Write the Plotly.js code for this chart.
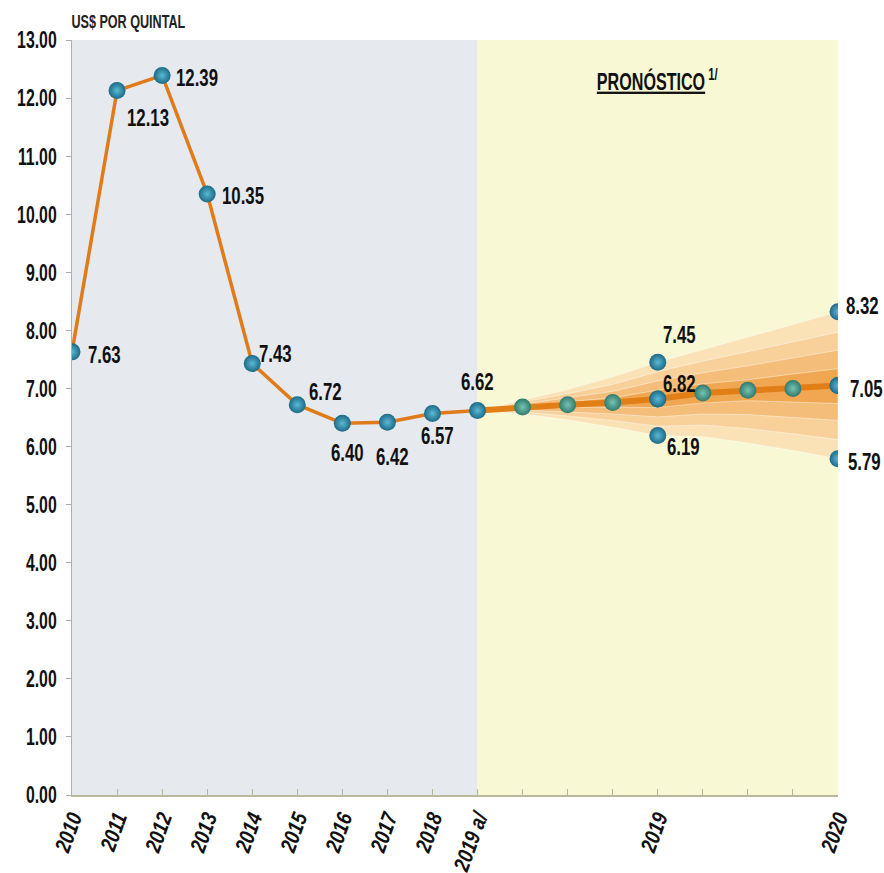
<!DOCTYPE html>
<html>
<head>
<meta charset="utf-8">
<script src="https://cdn.plot.ly/plotly-3.0.1.min.js"></script>
<style>body{margin:0;background:#fff}#chart{width:884px;height:873px}</style>
</head>
<body>
<div id="chart"></div>
<script>
// ---- data ----
const tickVals = [0,1,2,3,4,5,6,7,8,9,13,17];
const tickLabels = ["2010","2011","2012","2013","2014","2015","2016","2017","2018","2019 a/","2019","2020"];
const histIdx = [0,1,2,3,4,5,6,7,8,9];
const histValues = [7.63,12.13,12.39,10.35,7.43,6.72,6.40,6.42,6.57,6.62];
const fcIdx = [9,10,11,12,13,14,15,16,17];
const fcCenter = [6.62,6.68,6.72,6.76,6.82,6.92,6.97,7.00,7.05];
// fan band edges (outer -> inner)
const bandUpper4 = [6.62,6.80,6.98,7.20,7.45,7.67,7.88,8.10,8.32];
const bandUpper3 = [6.62,6.76,6.91,7.07,7.29,7.47,7.63,7.80,7.97];
const bandUpper2 = [6.62,6.73,6.84,6.95,7.13,7.27,7.39,7.53,7.66];
const bandUpper1 = [6.62,6.70,6.77,6.84,6.97,7.08,7.15,7.25,7.34];
const bandLower1 = [6.62,6.66,6.67,6.68,6.67,6.75,6.79,6.76,6.74];
const bandLower2 = [6.62,6.63,6.60,6.56,6.51,6.56,6.55,6.50,6.45];
const bandLower3 = [6.62,6.60,6.53,6.45,6.35,6.37,6.31,6.22,6.12];
const bandLower4 = [6.62,6.56,6.46,6.33,6.19,6.17,6.06,5.93,5.79];
const rangeIdx = [13,13,17,17];
const rangeValues = [7.45,6.19,8.32,5.79];
const centerLabelIdx = [13,17];
const centerLabelValues = [6.82,7.05];

const FAM = "Liberation Sans, Arial, sans-serif";
const lblFont = {family:FAM, size:24, color:"#111", weight:"bold"};
const bandColors = ["#fbe1b6","#f8d09a","#f5bd7a","#f1a752"];

const traces = [];
const uppers = [bandUpper4,bandUpper3,bandUpper2,bandUpper1];
const lowers = [bandLower4,bandLower3,bandLower2,bandLower1];
for (let k=0;k<4;k++){
  traces.push({x:fcIdx.concat(fcIdx.slice().reverse()), y:uppers[k].concat(lowers[k].slice().reverse()),
    type:"scatter", mode:"lines", fill:"toself", fillcolor:bandColors[k],
    line:{width:0.8,color:"rgba(255,255,255,0.55)"}, hoverinfo:"skip", showlegend:false});
}
traces.push({x:fcIdx,y:fcCenter,type:"scatter",mode:"lines",line:{color:"#e27e16",width:6},showlegend:false});
traces.push({x:histIdx,y:histValues,type:"scatter",mode:"lines",line:{color:"#e07b1a",width:3.5},showlegend:false});
const blueMarker = {size:17,color:"#1c6a86",gradient:{type:"radial",color:"#5bb9d4"},line:{width:0}};
const greenMarker = {size:17,color:"#2f7b6e",gradient:{type:"radial",color:"#79c2b2"},line:{width:0}};
traces.push({x:fcIdx.slice(1),y:fcCenter.slice(1),type:"scatter",mode:"markers",marker:greenMarker,showlegend:false});
traces.push({x:histIdx,y:histValues,type:"scatter",mode:"markers",marker:blueMarker,showlegend:false});
traces.push({x:rangeIdx,y:rangeValues,type:"scatter",mode:"markers",marker:blueMarker,showlegend:false});
traces.push({x:centerLabelIdx,y:centerLabelValues,type:"scatter",mode:"markers",marker:blueMarker,showlegend:false});

// label placement (pixel offsets of label centre from its point): [xshift, yshift]
const histPos = [[32,-3],[31,-27],[35,-2],[36,-2],[23,10],[28,13],[5,-29],[5,-34],[5,-22],[0,29]];
const annotations = [];
histValues.forEach((v,i)=>{
  annotations.push({x:histIdx[i],y:v,text:v.toFixed(2),showarrow:false,font:lblFont,
    xanchor:"center",xshift:histPos[i][0],yshift:histPos[i][1]});
});
const rangePos = [[22,28],[26,-11],[24,6],[26,-3]];
rangeValues.forEach((v,i)=>{
  annotations.push({x:rangeIdx[i],y:v,text:v.toFixed(2),showarrow:false,font:lblFont,
    xanchor:"center",xshift:rangePos[i][0],yshift:rangePos[i][1]});
});
const centerPos = [[22,15],[28,-3]];
centerLabelValues.forEach((v,i)=>{
  annotations.push({x:centerLabelIdx[i],y:v,text:v.toFixed(2),showarrow:false,font:lblFont,
    xanchor:"center",xshift:centerPos[i][0],yshift:centerPos[i][1]});
});
annotations.push({xref:"paper",yref:"paper",x:0,y:1,xanchor:"center",yanchor:"middle",xshift:56,yshift:18,
  text:"US$ POR QUINTAL",showarrow:false,
  font:{family:FAM,size:18,color:"#222",weight:"bold"}});
annotations.push({xref:"x",yref:"paper",x:13,y:0.947,xanchor:"center",yanchor:"middle",
  text:"<u>PRONÓSTICO</u><sup> 1/</sup>",showarrow:false,
  font:{family:FAM,size:23,color:"#111",weight:"bold"}});

const layout = {
  width:884,height:873,
  margin:{l:72,r:46,t:40,b:78},
  paper_bgcolor:"#ffffff",plot_bgcolor:"rgba(0,0,0,0)",
  showlegend:false,
  xaxis:{range:[0,17],tickmode:"array",tickvals:tickVals,ticktext:tickLabels,
    tickangle:-70,ticks:"inside",ticklen:6,tickcolor:"#b5b59a",showgrid:false,zeroline:false,
    minor:{tickmode:"linear",tick0:0,dtick:1,ticks:"inside",ticklen:6,tickcolor:"#b5b59a",showgrid:false},
    showline:true,linecolor:"#b8b89c",linewidth:2,
    tickfont:{family:FAM,size:22,color:"#111",weight:"bold",style:"italic"}},
  yaxis:{range:[0,13],tickmode:"linear",tick0:0,dtick:1,tickformat:".2f",ticks:"outside",ticklen:5,
    ticklabelstandoff:4,
    tickcolor:"#aaa",showgrid:false,zeroline:false,showline:true,linecolor:"#b0b0b0",linewidth:1.5,
    tickfont:{family:FAM,size:24,color:"#111",weight:"bold"}},
  shapes:[
    {type:"rect",xref:"x",yref:"y",x0:0,x1:9,y0:0,y1:13,fillcolor:"#e6e9ee",line:{width:0},layer:"below"},
    {type:"rect",xref:"x",yref:"y",x0:9,x1:17,y0:0,y1:13,fillcolor:"#f8f8d5",line:{width:0},layer:"below"}
  ],
  annotations:annotations
};

// narrow the glyphs to mimic the condensed face of the original
function squeeze(sel, f){
  document.querySelectorAll(sel).forEach(t=>{
    const L = t.getComputedTextLength();
    if (L>0){ t.setAttribute("textLength", (L*f).toFixed(1)); t.setAttribute("lengthAdjust","spacingAndGlyphs"); }
  });
}
Plotly.newPlot("chart",traces,layout,{displayModeBar:false,staticPlot:true}).then(()=>{
  squeeze("#chart .annotation-text", 0.7);
  squeeze("#chart .ytick text", 0.66);
  squeeze("#chart .xtick text", 0.82);
});
</script>
</body>
</html>
